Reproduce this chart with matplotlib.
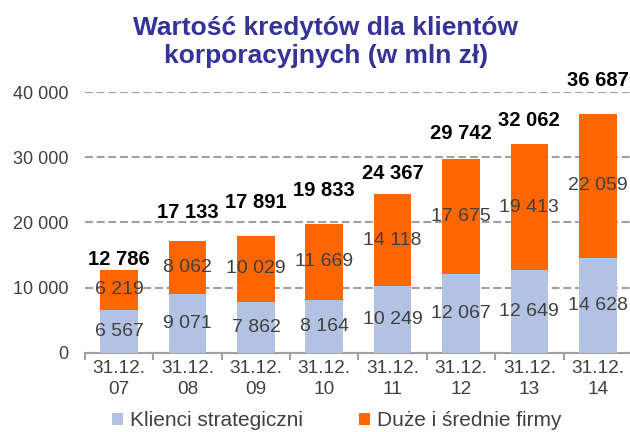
import numpy as np
import matplotlib.pyplot as plt

plt.rcParams['font.family'] = ['Liberation Sans', 'DejaVu Sans']

dates = ['31.12.\n07', '31.12.\n08', '31.12.\n09', '31.12.\n10',
         '31.12.\n11', '31.12.\n12', '31.12.\n13', '31.12.\n14']
strategic = [6567, 9071, 7862, 8164, 10249, 12067, 12649, 14628]
mid_large = [6219, 8062, 10029, 11669, 14118, 17675, 19413, 22059]
totals = [12786, 17133, 17891, 19833, 24367, 29742, 32062, 36687]
# baseline offsets (points) of the total labels above each bar
total_offsets = [3.5, 16.5, 20, 19.5, 11, 14.5, 13, 20]

BLUE = '#B3C2E2'
ORANGE = '#FF6600'
GREY_TXT = '#404040'


def fmt(v):
    return f"{v:,}".replace(',', ' ')


fig = plt.figure(figsize=(6.3, 4.32), dpi=100)
ax = fig.add_axes([0.135, 0.183, 0.868, 0.604])

x = np.arange(len(dates))
w = 0.55
ax.bar(x, strategic, w, color=BLUE, label='Klienci strategiczni', zorder=3)
ax.bar(x, mid_large, w, bottom=strategic, color=ORANGE,
       label='Duże i średnie firmy', zorder=3)

for i in range(len(x)):
    ax.text(x[i], strategic[i] / 2, fmt(strategic[i]), ha='center', va='center',
            fontsize=14, color=GREY_TXT, zorder=4)
    ax.text(x[i], strategic[i] + mid_large[i] / 2, fmt(mid_large[i]),
            ha='center', va='center', fontsize=14, color=GREY_TXT, zorder=4)
    ax.annotate(fmt(totals[i]), (x[i], totals[i]), xytext=(0, total_offsets[i]),
                textcoords='offset points', ha='center', va='baseline',
                fontsize=14.5, fontweight='bold', color='black', zorder=4,
                annotation_clip=False)

ax.set_xlim(-0.5, len(dates) - 0.5)
ax.set_ylim(0, 40000)
ax.set_yticks(np.arange(0, 40001, 10000))
ax.set_yticklabels([fmt(v) for v in range(0, 40001, 10000)], fontsize=13,
                   color=GREY_TXT)
ax.tick_params(axis='y', length=0, pad=12)
ax.yaxis.grid(True, linestyle=(0, (3.8, 1.8)), color='#A0A0A0', linewidth=1.5,
              zorder=0)

ax.set_xticks(x)
ax.set_xticklabels(dates, fontsize=13.7, color=GREY_TXT, linespacing=1.3)
ax.set_xticks(np.arange(-0.5, len(dates)), minor=True)
ax.tick_params(axis='x', which='major', length=0, pad=5)
ax.tick_params(axis='x', which='minor', length=5, width=1.5, color='#A0A0A0',
               direction='out')

for s in ['top', 'right', 'left']:
    ax.spines[s].set_visible(False)
ax.spines['bottom'].set_color('#A0A0A0')
ax.spines['bottom'].set_linewidth(1.5)

fig.text(0.517, 0.963, 'Wartość kredytów dla klientów\nkorporacyjnych (w mln zł)',
         ha='center', va='top', fontsize=19, fontweight='bold',
         color='#333399', linespacing=1.2)

fig.legend(loc='center', bbox_to_anchor=(0.534, 0.026), ncol=2,
           frameon=False, fontsize=15, handlelength=0.55, handleheight=0.55,
           columnspacing=2.7, handletextpad=0.3, labelcolor=GREY_TXT,
           borderpad=0, borderaxespad=0)

fig.savefig('out.png', dpi=100)
